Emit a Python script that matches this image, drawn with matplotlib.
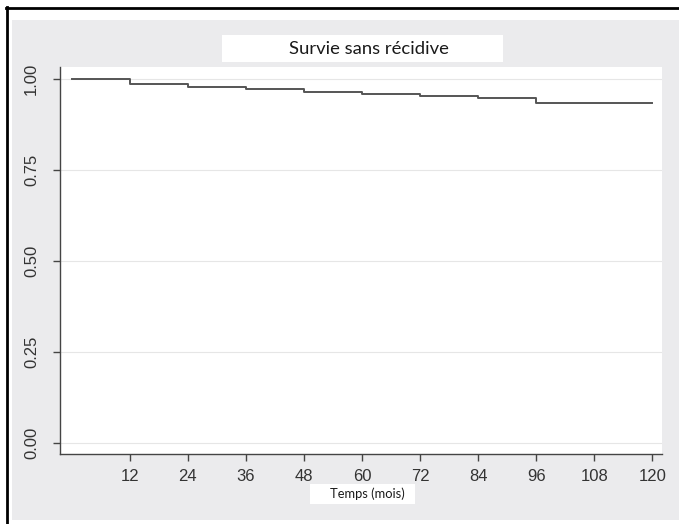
import matplotlib
matplotlib.use("Agg")
import matplotlib.pyplot as plt
from matplotlib.patches import Rectangle
from matplotlib.lines import Line2D

# ── Données ────────────────────────────────────────────────────────────────────
temps  = [0, 12, 24, 36, 48, 60, 72, 84, 96, 120]
survie = [1.000, 0.986, 0.977, 0.973, 0.965, 0.958, 0.953, 0.949, 0.935, 0.935]
x_ticks = [12, 24, 36, 48, 60, 72, 84, 96, 108, 120]
y_ticks = [0.00, 0.25, 0.50, 0.75, 1.00]

W, H = 679, 524
fig = plt.figure(figsize=(W / 100, H / 100), dpi=100)
fig.patch.set_facecolor("white")


def px(x, y):
    """pixels (origine en haut à gauche) -> coordonnées figure"""
    return x / W, 1 - y / H


def box(x0, y0, x1, y1, color, z=0):
    fx0, fy1 = px(x0, y1)
    rect = Rectangle((fx0, fy1), (x1 - x0) / W, (y1 - y0) / H,
                     transform=fig.transFigure, facecolor=color,
                     edgecolor="none", zorder=z)
    fig.patches.append(rect)


# fond gris + cadre noir
box(12, 20, W, 520, "#ebebed", z=-2)
fig.lines.append(Line2D([6.5 / W, 6.5 / W], [0, px(0, 7)[1]],
                        transform=fig.transFigure, color="black", lw=2, zorder=-1))
fig.lines.append(Line2D([6 / W, 1], [px(0, 8)[1]] * 2,
                        transform=fig.transFigure, color="black", lw=2, zorder=-1))

# ── Axes ──────────────────────────────────────────────────────────────────────
l, t, r, b = 60, 67, 662, 454
ax = fig.add_axes([l / W, 1 - b / H, (r - l) / W, (b - t) / H])
ax.set_zorder(5)
ax.set_facecolor("white")

ax.step(temps, survie, where="post", color="#555555", lw=1.4, zorder=3)

ax.set_xlim(-2.4, 122)
ax.set_ylim(-0.03, 1.033)
ax.set_xticks(x_ticks)
ax.set_yticks(y_ticks)
ax.set_yticklabels([f"{v:.2f}" for v in y_ticks], rotation=90, va="center")
ax.grid(axis="y", color="#e6e6e6", lw=0.8)
ax.set_axisbelow(True)

for s in ["top", "right"]:
    ax.spines[s].set_visible(False)
for s in ["left", "bottom"]:
    ax.spines[s].set_color("#444444")
    ax.spines[s].set_linewidth(1.0)

ax.tick_params(axis="both", direction="out", length=5, width=1,
               color="#444444", labelcolor="#333333")
ax.tick_params(axis="x", pad=6)
ax.tick_params(axis="y", pad=10)
for lab in ax.get_xticklabels() + ax.get_yticklabels():
    lab.set_fontfamily("Liberation Sans")
    lab.set_fontsize(12)

# ── Titre et libellé de l'axe x dans des cadres blancs ────────────────────────
box(222, 35, 503, 62, "white", z=1)
fig.text(*px(369, 48.5), "Survie sans récidive", ha="center", va="center",
         fontsize=13.3, family="Lato", color="#1a1a1a", zorder=2)

box(310, 484, 415, 504, "white", z=1)
fig.text(*px(367, 494), "Temps (mois)", ha="center", va="center",
         fontsize=9.3, family="Lato", color="#1a1a1a", zorder=2)

fig.savefig("out.png", dpi=100)
